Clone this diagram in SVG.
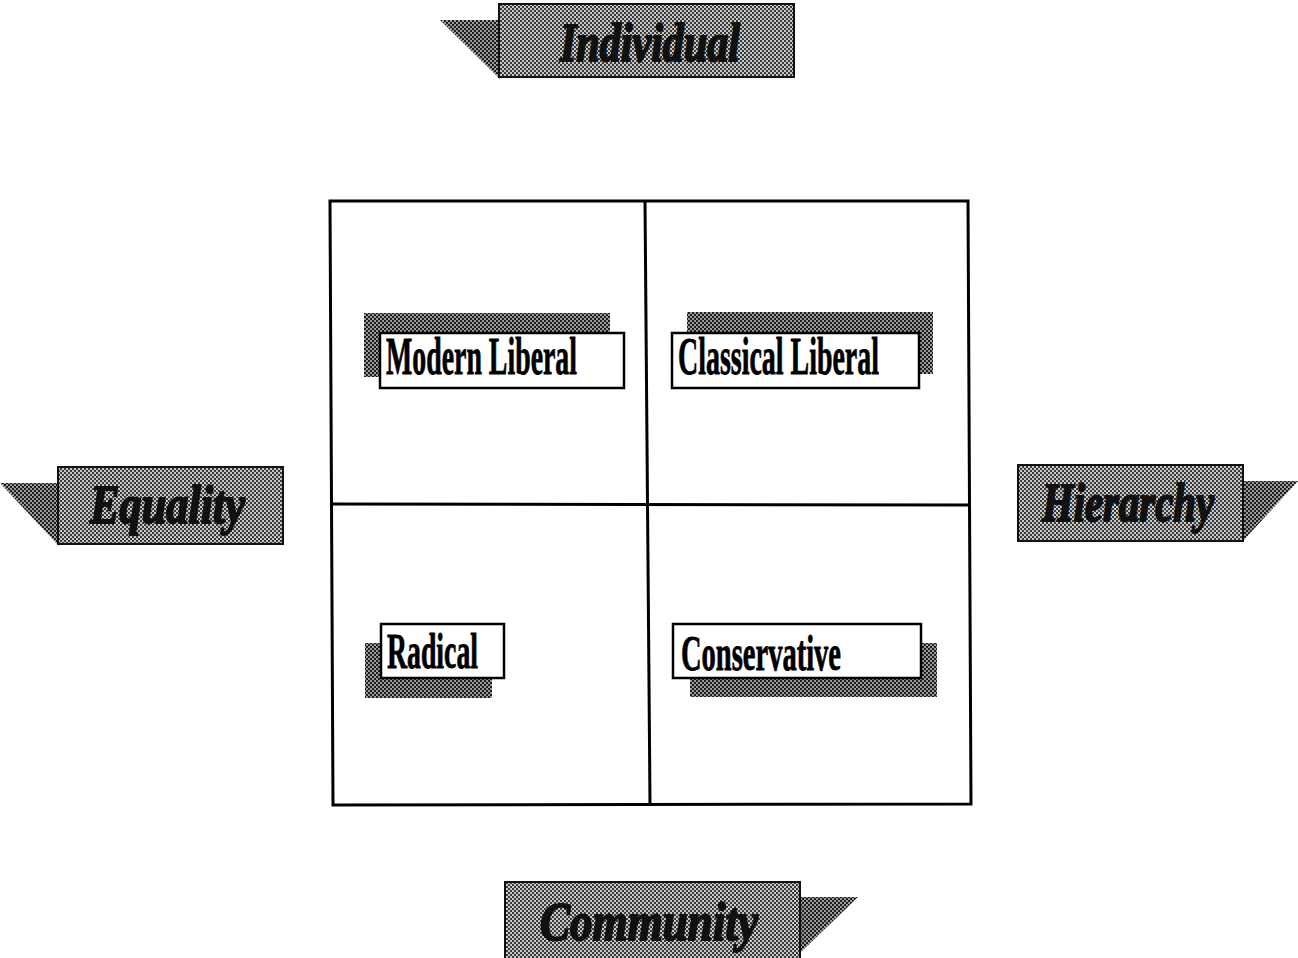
<svg xmlns="http://www.w3.org/2000/svg" width="1298" height="958" viewBox="0 0 1298 958">
  <defs>
    <!-- dithered halftone fills -->
    <pattern id="dither" width="4" height="4" patternUnits="userSpaceOnUse">
      <rect width="4" height="4" fill="#c8c8c8"/>
      <rect x="0" y="0" width="2" height="2" fill="#3a3a3a"/>
      <rect x="2" y="2" width="2" height="2" fill="#3a3a3a"/>
    </pattern>
    <pattern id="ditherDark" width="4" height="4" patternUnits="userSpaceOnUse">
      <rect width="4" height="4" fill="#9a9a9a"/>
      <rect x="0" y="0" width="2" height="2" fill="#1e1e1e"/>
      <rect x="2" y="2" width="2" height="2" fill="#1e1e1e"/>
    </pattern>
    <style>
      .banner { fill: url(#dither); stroke: #111; stroke-width: 2; }
      .flap { fill: url(#ditherDark); stroke: none; }
      .shadow { fill: url(#ditherDark); stroke: none; }
      .box { fill: #fff; stroke: #000; stroke-width: 2.5; }
      .grid { fill: none; stroke: #000; stroke-width: 3; }
      .axisText { font-family: "Liberation Serif", "Times New Roman", serif; font-weight: bold; font-style: italic; fill: #111; stroke: #111; stroke-width: 2; stroke-linejoin: round; }
      .cellText { font-family: "Liberation Serif", "Times New Roman", serif; font-weight: bold; fill: #000; stroke: #000; stroke-width: 0.8; }
    </style>
  </defs>

  <!-- quadrant grid -->
  <g id="grid">
    <polygon class="grid" points="330,201 968,201 971,804 333,805"/>
    <line class="grid" x1="645" y1="201" x2="650" y2="804"/>
    <line class="grid" x1="331" y1="504" x2="970" y2="505"/>
  </g>

  <!-- axis banners -->
  <g id="individual">
    <polygon class="flap" points="440,20 500,20 500,79"/>
    <rect class="banner" x="499" y="4" width="295" height="73"/>
    <text class="axisText" x="560" y="61" font-size="54" textLength="180" lengthAdjust="spacingAndGlyphs">Individual</text>
  </g>

  <g id="equality">
    <polygon class="flap" points="0,483 59,483 59,546"/>
    <rect class="banner" x="58" y="467" width="225" height="77"/>
    <text class="axisText" x="90" y="523" font-size="54" textLength="155" lengthAdjust="spacingAndGlyphs">Equality</text>
  </g>

  <g id="hierarchy">
    <polygon class="flap" points="1242,481 1298,481 1242,542"/>
    <rect class="banner" x="1018" y="465" width="225" height="76"/>
    <text class="axisText" x="1042" y="521" font-size="54" textLength="172" lengthAdjust="spacingAndGlyphs">Hierarchy</text>
  </g>

  <g id="community">
    <polygon class="flap" points="800,897 858,897 800,953"/>
    <rect class="banner" x="505" y="882" width="295" height="78"/>
    <text class="axisText" x="540" y="940" font-size="54" textLength="218" lengthAdjust="spacingAndGlyphs">Community</text>
  </g>

  <!-- quadrant labels -->
  <g id="modern-liberal">
    <rect class="shadow" x="364" y="313" width="246" height="64"/>
    <rect class="box" x="380" y="333" width="244" height="55"/>
    <text class="cellText" x="386" y="374" font-size="52" textLength="191" lengthAdjust="spacingAndGlyphs">Modern Liberal</text>
  </g>

  <g id="classical-liberal">
    <rect class="shadow" x="687" y="312" width="246" height="62"/>
    <rect class="box" x="672" y="333" width="247" height="55"/>
    <text class="cellText" x="678" y="374" font-size="52" textLength="201" lengthAdjust="spacingAndGlyphs">Classical Liberal</text>
  </g>

  <g id="radical">
    <rect class="shadow" x="365" y="643" width="127" height="55"/>
    <rect class="box" x="381" y="624" width="123" height="54"/>
    <text class="cellText" x="387" y="668" font-size="50" textLength="91" lengthAdjust="spacingAndGlyphs">Radical</text>
  </g>

  <g id="conservative">
    <rect class="shadow" x="690" y="643" width="247" height="54"/>
    <rect class="box" x="673" y="624" width="248" height="54"/>
    <text class="cellText" x="681" y="670" font-size="50" textLength="160" lengthAdjust="spacingAndGlyphs">Conservative</text>
  </g>
</svg>
